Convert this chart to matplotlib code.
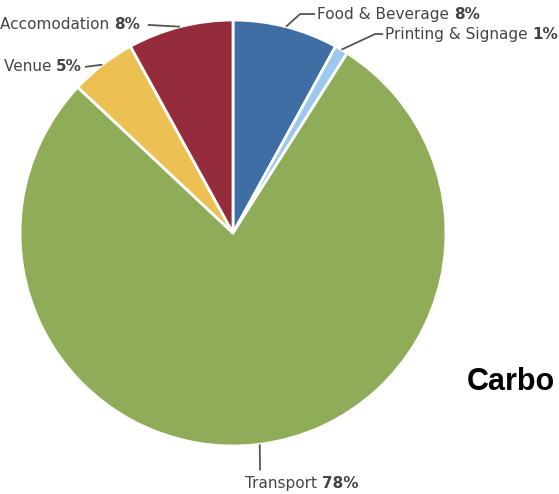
import matplotlib
matplotlib.use('Agg')
import matplotlib.pyplot as plt
import numpy as np

# slices, clockwise from 12 o'clock
labels = ['Food & Beverage', 'Printing & Signage', 'Transport', 'Venue', 'Accomodation']
shares = [8, 1, 78, 5, 8]
colors = ['#3f6ea5', '#9dc8ee', '#8fad58', '#ecc052', '#952c3b']

# label placement in pie units: (elbow/line end, text anchor, side)
label_pos = {
    'Food & Beverage': ([(0.315, 1.028), (0.385, 1.028)], (0.394, 1.028), 'left'),
    'Printing & Signage': ([(0.667, 0.934), (0.705, 0.934)], (0.714, 0.934), 'left'),
    'Transport': ([(0.127, -1.115)], (0.056, -1.174), 'left'),
    'Venue': ([(-0.695, 0.78)], (-0.709, 0.78), 'right'),
    'Accomodation': ([(-0.4, 0.977)], (-0.437, 0.977), 'right'),
}

W, H = 559, 494
cx, cy, r = 233, 233, 213

fig = plt.figure(figsize=(W / 100, H / 100), dpi=100)
ax = fig.add_axes([0, 0, 1, 1])

wedges, _ = ax.pie(shares, colors=colors, startangle=90, counterclock=False,
                   wedgeprops=dict(edgecolor='white', linewidth=2))
ax.set_aspect('auto')
ax.set_xlim(-cx / r, (W - cx) / r)
ax.set_ylim((cy - H) / r, cy / r)
ax.axis('off')

txt_color = '#444444'
fs = 11
for w, name, val in zip(wedges, labels, shares):
    mid = np.deg2rad((w.theta1 + w.theta2) / 2)
    x0, y0 = np.cos(mid), np.sin(mid)
    pts, (tx, ty), side = label_pos[name]
    xs = [x0] + [p[0] for p in pts]
    ys = [y0] + [p[1] for p in pts]
    ax.plot(xs, ys, color='#555555', lw=1.3, solid_capstyle='butt')
    pct = '%d%%' % val
    if side == 'left':
        t = ax.text(tx, ty, name + ' ', ha='left', va='center', fontsize=fs, color=txt_color)
        ax.annotate(pct, xy=(1, 0), xycoords=t, ha='left', va='bottom',
                    fontsize=fs, fontweight='bold', color=txt_color)
    else:
        t = ax.text(tx, ty, pct, ha='right', va='center', fontsize=fs,
                    fontweight='bold', color=txt_color)
        ax.annotate(name + ' ', xy=(0, 0), xycoords=t, ha='right', va='bottom',
                    fontsize=fs, color=txt_color)

fig.text(467 / W, 1 - 390 / H, 'Carbo', ha='left', va='baseline',
         fontsize=22, fontweight='bold', family='Liberation Sans', color='black')

fig.savefig('out.png', dpi=100)
